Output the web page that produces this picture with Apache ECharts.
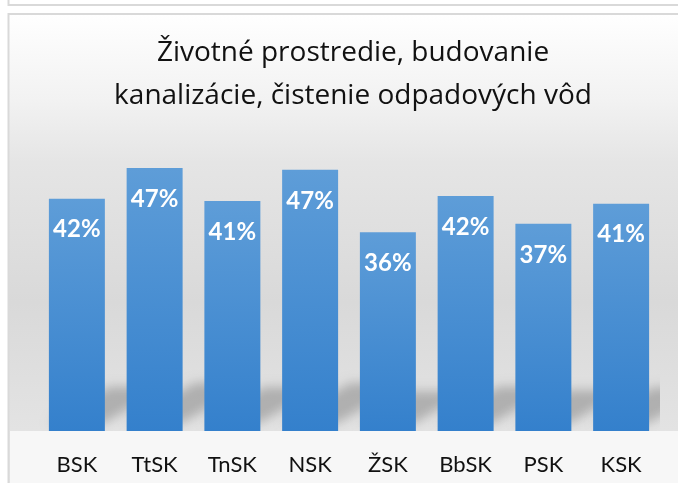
<!DOCTYPE html>
<html>
<head>
<meta charset="utf-8">
<script src="https://cdn.jsdelivr.net/npm/echarts@6/dist/echarts.min.js"></script>
<style>
  html, body { margin: 0; padding: 0; background: #fff; }
  #chart { width: 678px; height: 483px; }
</style>
</head>
<body>
<div id="chart"></div>
<script>
// kraje
let categories = ['BSK', 'TtSK', 'TnSK', 'NSK', 'ŽSK', 'BbSK', 'PSK', 'KSK'];

// podiel (odčítané z grafu)
let values = [0.417, 0.472, 0.413, 0.469, 0.357, 0.422, 0.372, 0.408];

let titleText = 'Životné prostredie, budovanie\nkanalizácie, čistenie odpadových vôd';

let chart = echarts.init(document.getElementById('chart'), null, { renderer: 'canvas' });

// tieň za stĺpcami (perspektívny) - tvar je posunutý mimo výrez, vidno len rozmazaný tieň
let SHIFT = 150;
function renderShadow(params, api) {
  let bottom = api.coord([api.value(0), 0]);
  let top = api.coord([api.value(0), api.value(1)]);
  let bw = api.size([1, 0])[0] * 0.72;
  let x0 = bottom[0] - bw / 2;
  let x1 = x0 + bw;
  let y0 = bottom[1] - 8 + SHIFT;
  let s = (bottom[1] - top[1]) * 0.13;
  return {
    type: 'polygon',
    shape: {
      points: [[x0, y0], [x1, y0], [x1 + 2 * s, y0 - s - 6], [x0 + 2 * s, y0 - s - 6]]
    },
    style: {
      fill: '#000000',
      shadowBlur: 11,
      shadowOffsetY: -SHIFT,
      shadowColor: 'rgba(0,0,0,0.22)'
    }
  };
}

let option = {
  backgroundColor: '#ffffff',
  animation: false,
  graphic: [
    // horný rámček (predošlý graf)
    {
      type: 'polyline', silent: true, z: -10,
      shape: { points: [[8.5, 0], [8.5, 5], [680, 5]] },
      style: { stroke: '#d9d9d9', lineWidth: 2, fill: null }
    },
    // pozadie grafu
    {
      type: 'rect', silent: true, z: -10,
      shape: { x: 8.5, y: 14, width: 700, height: 480 },
      style: {
        stroke: '#d9d9d9', lineWidth: 2,
        fill: new echarts.graphic.LinearGradient(0, 0, 0, 1, [
          { offset: 0, color: '#ffffff' },
          { offset: 0.18, color: '#f2f2f2' },
          { offset: 0.31, color: '#e5e5e5' },
          { offset: 0.6, color: '#d9d9d9' },
          { offset: 0.89, color: '#e4e4e4' },
          { offset: 1, color: '#e6e6e6' }
        ])
      }
    },
    {
      type: 'rect', silent: true, z: -9,
      shape: { x: 10, y: 431, width: 670, height: 52 },
      style: { fill: '#f7f7f7' }
    }
  ],
  title: {
    text: titleText,
    left: 348,
    top: 27,
    textAlign: 'center',
    textStyle: {
      fontFamily: 'Open Sans',
      fontSize: 28,
      fontWeight: 'normal',
      lineHeight: 43,
      color: '#111111'
    }
  },
  grid: {
    left: 38,
    right: 18,
    top: 152.5,
    bottom: 52
  },
  xAxis: {
    type: 'category',
    data: categories,
    axisLine: { show: false },
    axisTick: { show: false },
    axisLabel: {
      margin: 23,
      fontFamily: 'Lato',
      fontSize: 22,
      color: '#111111'
    }
  },
  yAxis: {
    type: 'value',
    min: 0,
    max: 0.5,
    show: false,
    splitLine: { show: false }
  },
  series: [
    {
      type: 'custom',
      z: 1,
      clip: true,
      silent: true,
      renderItem: renderShadow,
      data: values.map((v, i) => [i, v])
    },
    {
      type: 'bar',
      z: 2,
      data: values,
      barCategoryGap: '28%',
      itemStyle: {
        color: new echarts.graphic.LinearGradient(0, 0, 0, 1, [
          { offset: 0, color: '#5e9dd8' },
          { offset: 1, color: '#3480cc' }
        ])
      },
      label: {
        show: true,
        position: 'insideTop',
        distance: 19,
        fontFamily: 'Lato',
        fontSize: 24,
        fontWeight: 'bold',
        color: '#ffffff',
        formatter: p => Math.round(p.value * 100) + '%'
      }
    }
  ]
};

chart.setOption(option);
</script>
</body>
</html>
